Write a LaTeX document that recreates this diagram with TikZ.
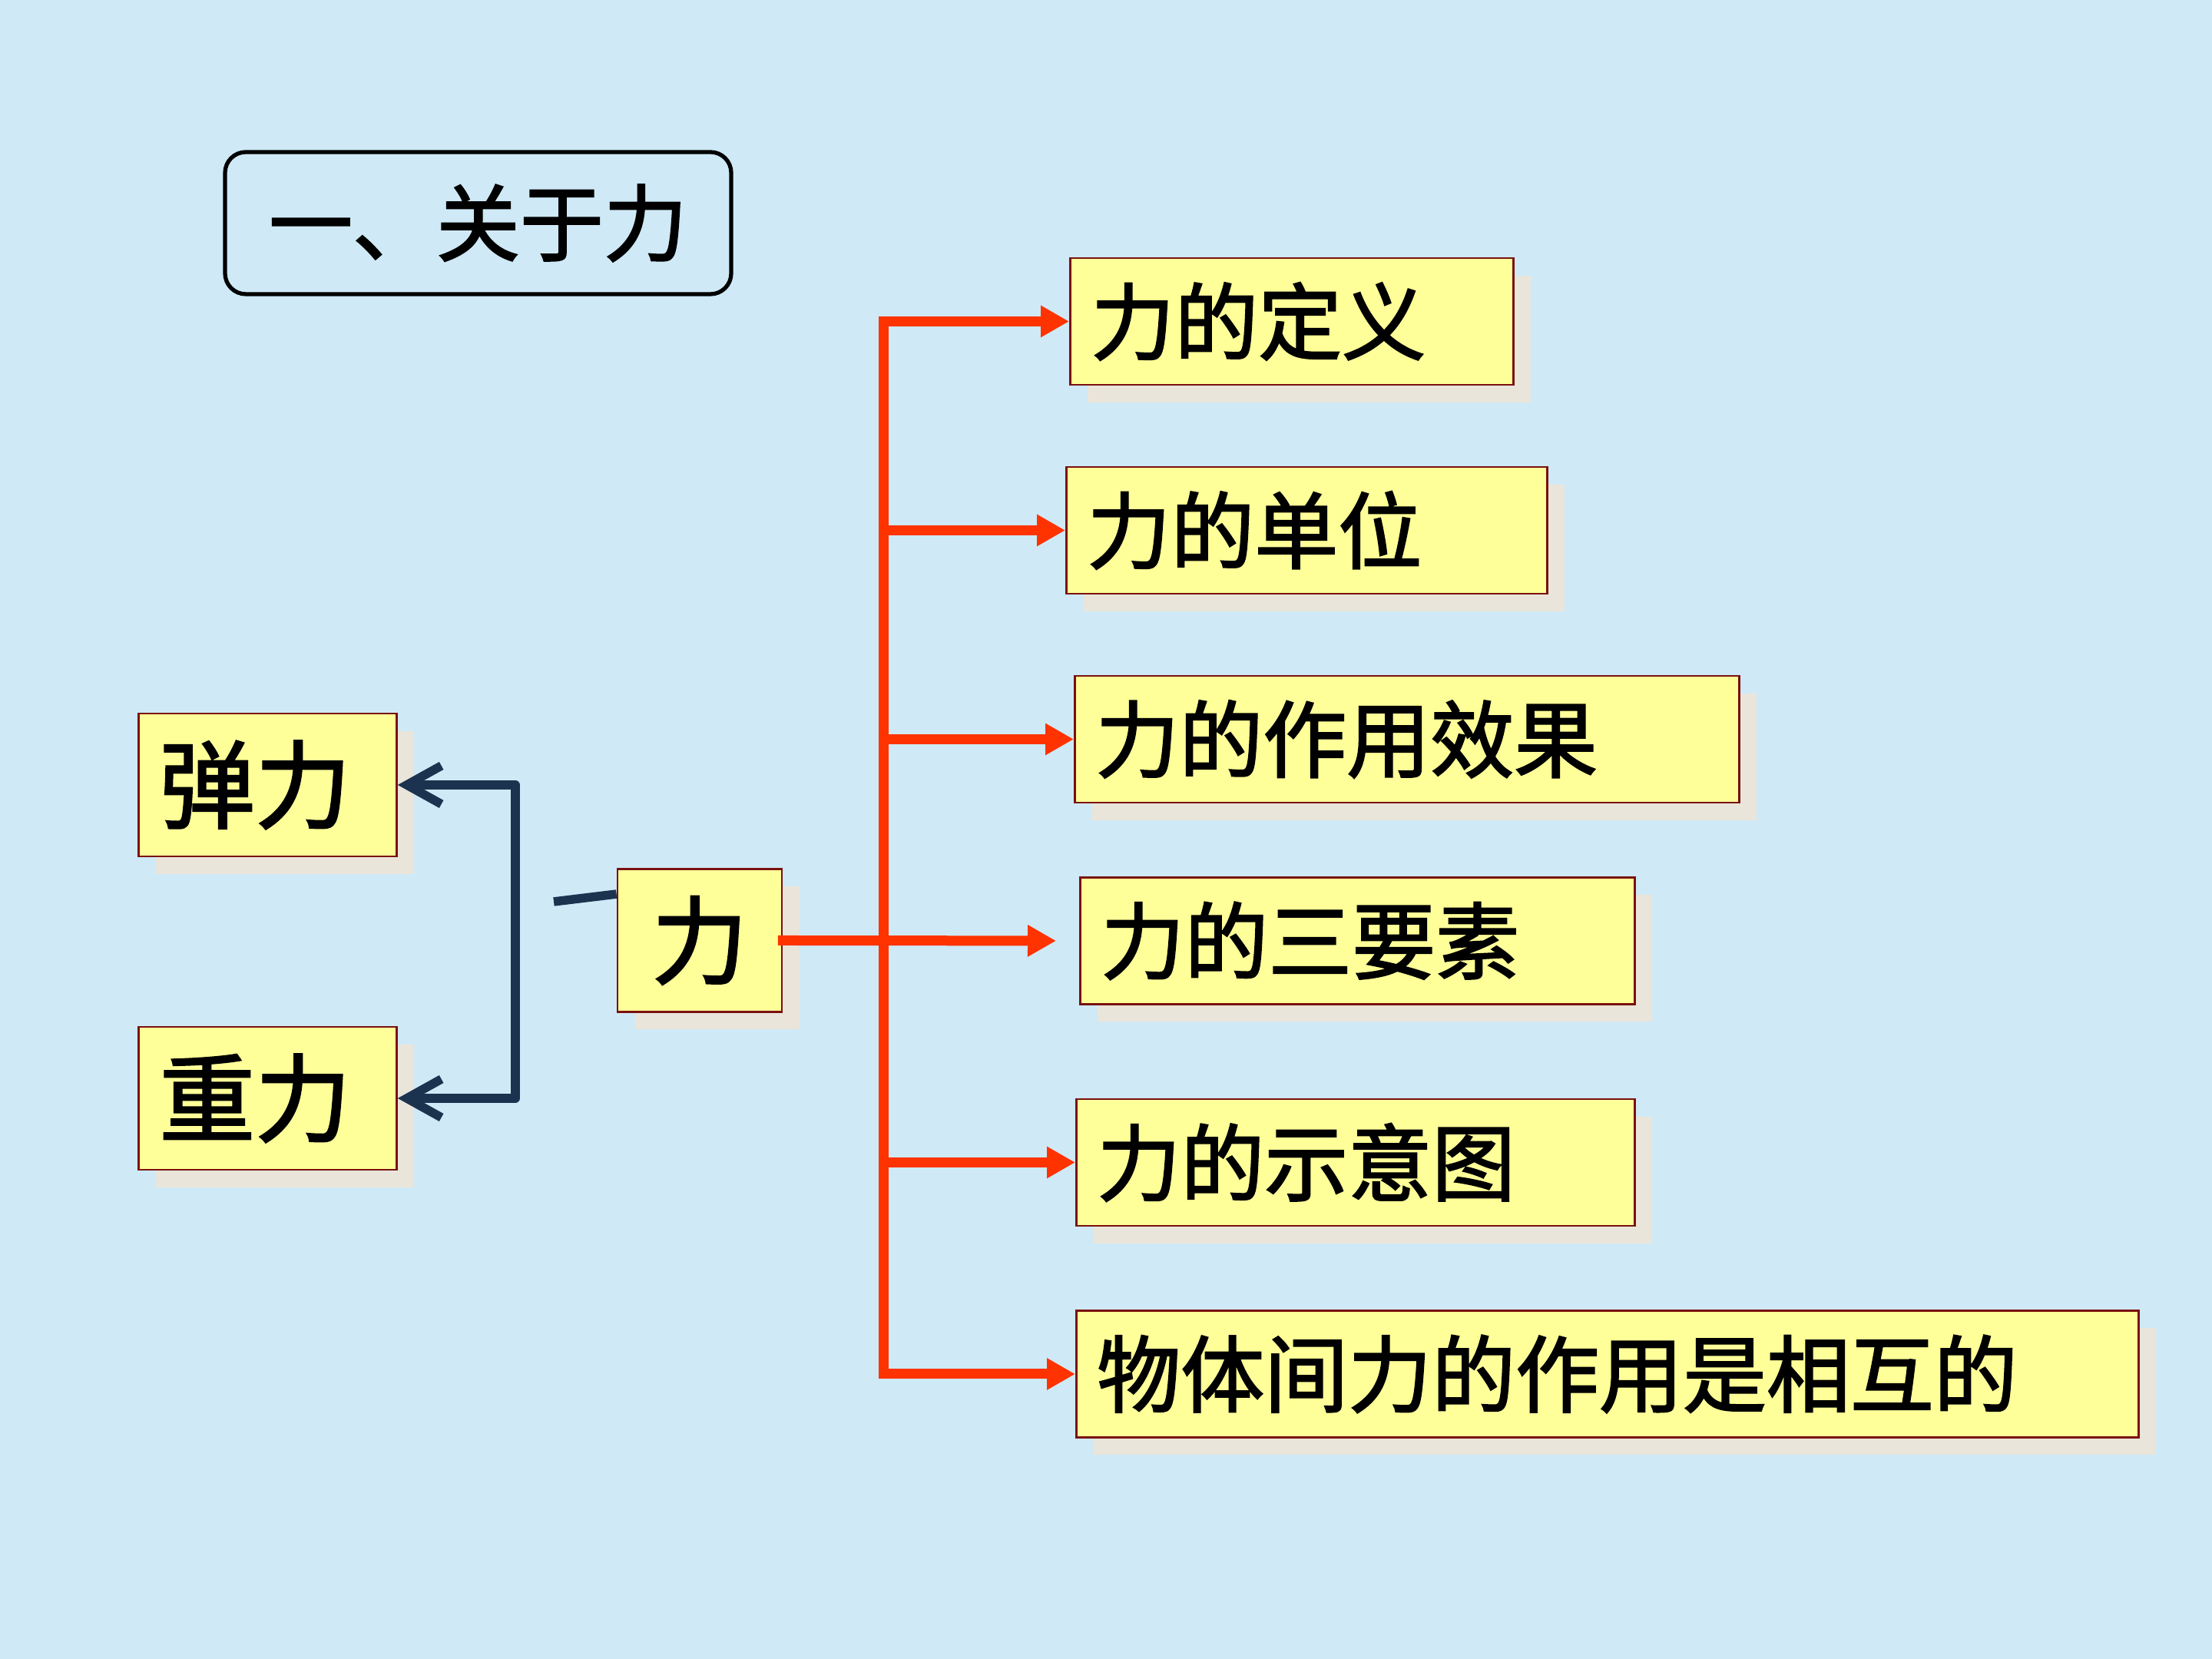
\documentclass[tikz,border=0pt]{standalone}
\usepackage{fontspec}
\newfontfamily\zhfont[FakeBold=2]{Noto Sans CJK SC}
\usepackage{tikz}
\usetikzlibrary{arrows.meta,calc,positioning,shadows}
\definecolor{slidebg}{HTML}{CFE9F6}
\definecolor{boxfill}{HTML}{FFFF99}
\definecolor{boxedge}{HTML}{7A1010}
\definecolor{boxshade}{HTML}{EAE5DA}
\definecolor{branchred}{HTML}{FF3300}
\definecolor{bracketnavy}{HTML}{1C3350}

\begin{document}
\begin{tikzpicture}[
  heading/.style={draw=black, line width=1.5pt, rounded corners=2.7mm,
                  minimum width=65.9mm, minimum height=18.5mm, inner sep=0pt,
                  font=\zhfont\fontsize{31}{36}\selectfont},
  item/.style={draw=boxedge, line width=0.8pt, fill=boxfill, anchor=west,
               minimum height=16.5mm, inner xsep=2.7mm, inner ysep=0pt, align=left,
               font=\zhfont\fontsize{31}{36}\selectfont,
               drop shadow={shadow xshift=2.3mm, shadow yshift=-2.3mm,
                            fill=boxshade, opacity=1}},
  force/.style={item, minimum height=18.6mm,
                font=\zhfont\fontsize{35.5}{40}\selectfont},
  branch/.style={draw=branchred, line width=1.3mm, line cap=rect},
  pointer/.style={branch, -{Triangle[length=3.7mm, width=3.9mm]}},
  bracket/.style={draw=bracketnavy, line width=1.15mm, line cap=round, line join=round,
                  {Straight Barb[length=4.5mm, width=5mm]}-{Straight Barb[length=4.5mm, width=5mm]}},
  stub/.style={draw=bracketnavy, line width=1.15mm},
]
  \useasboundingbox (0,0) rectangle (28.8,21.6);
  \fill[slidebg] (0,0) rectangle (28.8,21.6);

  % Title -------------------------------------------------------------------
  \node[heading] (title) at (6.225,18.695) {一、关于力};

  % Centre and the two kinds of force -----------------------------------------
  \node[force, anchor=center, align=center, minimum width=21.4mm, inner xsep=0pt]
    (li) at (9.11,9.355) {力};
  \node[force, text width=28.2mm] (tanli) at (1.79,11.38) {弹力};
  \node[force, text width=28.2mm] (zhongli) at (1.79,7.30) {重力};

  % Branches on the right -----------------------------------------------------
  \node[item, text width=52.3mm] (dingyi) at (13.92,17.415) {力的定义};
  \node[item, text width=57.2mm] (danwei) at (13.87,14.695) {力的单位};
  \node[item, text width=81.1mm] (xiaoguo) at (13.98,11.975) {力的作用效果};
  \node[item, text width=66.8mm] (sanyao) at (14.05,9.35) {力的三要素};
  \node[item, text width=67.3mm] (shiyi) at (14.00,6.465) {力的示意图};
  \node[item, text width=132.9mm] (huxiang) at (14.00,3.71) {物体间力的作用是相互的};

  % Connectors --------------------------------------------------------------
  \coordinate (trunk) at (11.5,0);
  \draw[branch] (dingyi.west -| trunk) -- (huxiang.west -| trunk);
  \foreach \n in {dingyi,danwei,xiaoguo,shiyi,huxiang}
    \draw[pointer] (\n.west -| trunk) -- (\n.west);
  \draw[pointer, shorten >=3mm] (li.east) -- (sanyao.west);

  \coordinate (fork) at (6.71,9.3);
  \draw[bracket] (tanli.east) -| (fork) |- (zhongli.east);
  \coordinate (stubend) at (7.21,9.86);
  \draw[stub] (stubend) -- ($(li.north west)!0.18!(li.south west)$);
\end{tikzpicture}
\end{document}
